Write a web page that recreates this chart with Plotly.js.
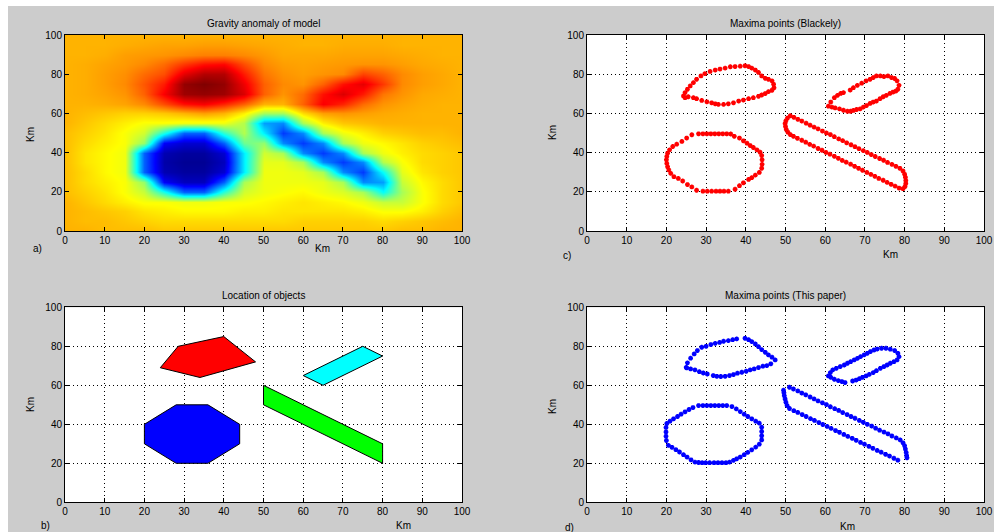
<!DOCTYPE html>
<html><head><meta charset="utf-8">
<script src="https://cdn.plot.ly/plotly-3.0.1.min.js"></script>
<style>html,body{margin:0;padding:0;background:#cccccc;} #chart{width:994px;height:532px;}</style>
</head><body><div id="chart"></div>
<script>
// ---------- DATA ----------
const axisTicks = [0,10,20,30,40,50,60,70,80,90,100];
const yTicks = [0,20,40,60,80,100];
const gridX = [0,5,10,15,20,25,30,35,40,45,50,55,60,65,70,75,80,85,90,95,100];
const gridY = [0,5,10,15,20,25,30,35,40,45,50,55,60,65,70,75,80,85,90,95,100];
// gravity anomaly level (colour-index units 0..100), rows for y = 0..100
const gravityZ = [
 [70,70,69,69,69,68,68,68,68,68,68,68,68,68,68,68,68,69,69,70,70],
 [70,69,69,68,67,66,66,66,66,66,66,66,67,67,67,67,66,67,68,69,70],
 [70,69,68,67,65,64,63,63,63,64,64,65,65,65,65,64,62,62,64,67,69],
 [70,68,66,64,62,62,61,61,62,62,63,64,65,64,63,61,57,57,62,66,68],
 [69,67,65,62,57,40,22,22,42,58,61,62,63,61,59,54,38,54,62,66,68],
 [69,66,64,62,52,12,6,6,22,54,61,61,61,60,54,26,28,57,63,66,68],
 [69,66,63,61,22,5,3,3,8,36,61,61,60,54,26,18,38,60,65,67,68],
 [69,65,63,61,22,4,2,2,6,36,60,60,54,26,18,26,55,62,66,67,68],
 [69,65,63,61,22,5,3,3,8,36,58,54,26,18,26,54,61,64,66,67,68],
 [69,66,64,62,52,12,8,8,22,48,52,26,18,26,54,61,63,65,67,68,69],
 [69,67,65,62,58,40,22,22,42,55,36,18,26,54,61,64,67,68,69,69,70],
 [70,68,66,64,62,62,61,61,61,55,28,26,54,64,68,69,70,70,70,70,70],
 [70,69,68,67,67,68,70,72,70,64,54,54,66,72,73,72,71,70.5,70,70,70],
 [70,70,70.5,71.5,74,80,86,88,84,78,70,70,78,88,84,77,73,71.5,70.5,70,70],
 [70,70.5,71.5,73,78,88,97,98,97,91,78,73,77,86,91,85,76,73,71,70.5,70],
 [70,70.5,72,74,79,85,98,100,98,89,78,74,73,78,86,90,82,74,72,71,70],
 [70,70.5,72,73.5,77,80,90,95,95,85,76,73,72,73,74,81,78,74,72,71,70],
 [70,70.5,71.5,72.5,74,77,82,86,87,80,74,72,71.5,72,72.5,73,73,72,71,70.5,70],
 [70,70,70.5,72,72.5,73,74,75,75,74,72.5,71,71,71,71.5,71.5,71.5,71,70.5,70,70],
 [70,70,70,70.5,71,71.5,71.5,72,72,71.5,71,70.5,70,70,70.5,70.5,70.5,70,70,70,70],
 [70,70,70,70,70,70,70,70,70,70,70,70,70,70,70,70,70,70,70,70,70]
];

// panel b: bodies (x,y vertices in km)
const redBody   = [[24,69],[28.5,80],[40,85],[48,72],[34,64]];
const cyanBody  = [[60,65],[65,60],[80,75],[75,80]];
const greenBody = [[50,60],[50,50],[80,20],[80,30]];
const blueBody  = [[20,30],[20,40],[28,50],[36,50],[44,40],[44,30],[36,20],[28,20]];

// panel c: maxima points (Blakely)
const blakelyBody1 = [[24.3,68.9],[24.7,70.6],[25.3,72.3],[26.0,74.0],[26.8,75.7],[27.6,77.4],[28.7,79.1],[29.7,80.3],[31.0,81.4],[32.3,82.1],[33.5,82.6],[34.8,83.1],[36.1,83.8],[37.3,83.9],[38.6,84.1],[39.8,84.3],[40.7,83.9],[41.5,83.1],[42.4,82.1],[43.2,80.9],[44.0,79.1],[44.9,77.9],[45.7,77.4],[46.6,76.6],[47.0,74.9],[47.1,73.1],[46.6,71.8],[45.7,71.1],[44.9,70.1],[44.0,69.4],[43.2,68.7],[41.9,68.0],[40.7,67.5],[39.4,66.8],[38.2,66.3],[36.9,65.4],[35.6,64.9],[34.4,64.6],[33.1,64.6],[32.3,64.9],[31.4,65.4],[30.2,65.9],[28.9,66.6],[27.6,67.5],[26.8,68.0],[25.5,68.5],[24.7,68.0]];
const blakelyBody2 = [[26.4,49.1],[25.1,47.4],[23.9,45.7],[22.6,44.3],[21.6,43.1],[20.8,41.4],[20.3,39.7],[20.1,38.0],[20.0,36.3],[20.1,34.5],[20.3,32.8],[20.6,31.1],[21.1,29.4],[21.9,27.7],[23.0,26.8],[24.1,25.5],[25.3,23.7],[26.4,22.5],[27.6,20.8],[29.2,20.3],[30.3,20.3],[31.4,20.3],[32.5,20.3],[33.5,20.3],[34.5,20.3],[35.6,20.3],[37.3,21.3],[38.4,23.1],[39.4,24.6],[40.7,26.3],[41.5,27.2],[42.4,28.5],[43.4,29.9],[44.0,32.0],[44.1,34.0],[44.1,36.3],[44.0,38.5],[43.6,40.2],[42.8,41.4],[41.9,42.6],[41.1,43.6],[40.3,44.8],[39.4,46.0],[38.4,47.4],[37.1,48.3],[36.2,49.5],[35.2,49.6],[34.2,49.6],[33.2,49.6],[32.2,49.6],[31.2,49.6],[30.2,49.6],[29.2,49.6],[28.1,49.6]];
const blakelyBody3 = [[60.8,63.7],[61.4,65.8],[62.3,68.0],[63.1,69.2],[63.9,70.2],[64.6,70.6],[66.3,71.9],[67.1,73.1],[68.1,74.3],[69.2,75.4],[70.3,76.6],[71.3,77.4],[72.1,78.3],[72.9,79.1],[73.9,79.1],[74.8,78.8],[75.8,79.1],[76.7,78.3],[77.5,77.8],[78.1,76.6],[78.6,74.3],[78.3,72.3],[77.8,71.4],[77.1,70.9],[76.3,70.2],[75.4,69.2],[74.6,68.5],[73.8,67.5],[72.9,66.3],[72.1,65.8],[71.3,65.1],[70.4,64.0],[69.6,63.2],[68.8,62.3],[67.9,62.0],[67.1,61.5],[66.4,61.1],[65.6,61.1],[64.6,61.6],[63.6,62.3],[62.5,62.8],[61.7,63.2]];
const blakelyBody4 = [[51.2,58.8],[52.1,58.0],[53.1,57.0],[54.1,56.1],[55.2,55.0],[56.2,54.0],[57.2,53.0],[58.2,52.1],[59.3,51.0],[60.3,50.0],[61.3,49.2],[62.3,48.1],[63.4,47.0],[64.4,46.1],[65.4,45.0],[66.5,44.0],[67.5,43.0],[68.5,42.0],[69.6,41.0],[70.6,40.1],[71.6,39.0],[72.6,38.0],[73.7,37.0],[74.7,36.1],[75.7,35.0],[76.8,34.0],[77.8,33.0],[78.8,32.0],[79.6,30.6],[80.0,29.0],[80.2,27.4],[80.3,25.8],[80.3,24.2],[80.1,22.7],[79.6,21.6],
 [78.6,21.9],[77.6,22.9],[76.6,23.8],[75.6,24.8],[74.6,25.9],[73.5,26.8],[72.5,27.9],[71.5,28.9],[70.5,29.9],[69.4,31.0],[68.4,32.0],[67.4,33.0],[66.4,34.1],[65.3,35.1],[64.3,36.0],[63.3,37.1],[62.3,38.1],[61.2,39.2],[60.2,40.1],[59.2,41.2],[58.2,42.1],[57.1,43.3],[56.1,44.2],[55.1,45.3],[54.1,46.3],[53.0,47.3],[52.0,48.3],[51.2,49.2],[50.6,50.4],[50.2,51.8],[50.0,53.3],[49.9,54.8],[50.1,56.2],[50.5,57.6]];

// panel d: maxima points (This paper)
const paperBody1 = [[25.0,69.2],[25.3,71.5],[26.1,73.9],[27.0,76.1],[27.8,77.8],[28.9,79.5],[30.0,80.0],[31.2,80.9],[32.3,81.5],[33.4,82.0],[34.4,82.6],[35.6,82.9],[36.7,83.4],[37.7,83.8],[39.8,84.1],[40.7,83.4],[41.5,82.4],[42.4,81.2],[43.2,79.8],[44.0,78.3],[44.9,76.9],[45.7,75.6],[46.6,74.4],[47.4,73.0],[46.3,71.0],[45.3,70.1],[44.3,69.8],[43.2,69.1],[42.1,68.4],[41.1,67.9],[40.1,67.2],[39.0,66.7],[37.9,66.2],[36.9,65.5],[35.9,65.0],[34.8,64.6],[33.7,64.5],[32.7,64.6],[31.8,65.0],[30.3,65.8],[29.3,66.3],[28.3,67.0],[27.2,67.9],[26.1,68.4],[25.1,68.9]];
const paperBody2 = [[28.1,49.6],[29.2,49.6],[30.2,49.6],[31.2,49.6],[32.2,49.6],[33.2,49.6],[34.2,49.6],[35.2,49.6],[36.5,49.1],[37.6,47.9],[38.6,46.5],[39.6,45.2],[40.5,44.0],[41.5,42.8],[42.5,41.6],[43.4,40.6],[44.0,38.5],[44.0,36.3],[44.0,34.1],[44.0,32.0],[43.4,29.8],[42.5,28.3],[41.5,26.9],[40.5,25.6],[39.6,24.4],[38.6,23.2],[37.7,22.3],[36.9,21.5],[35.9,20.6],[35.0,20.3],[34.0,20.3],[33.0,20.3],[32.0,20.3],[30.9,20.3],[29.9,20.3],[29.0,20.3],[28.1,20.4],[27.2,20.6],[26.2,21.8],[25.2,23.2],[24.3,24.4],[23.3,25.8],[22.4,27.0],[21.4,28.2],[20.5,29.2],[20.0,31.7],[19.9,33.9],[19.9,36.1],[19.9,38.4],[20.1,40.4],[20.9,41.6],[21.8,42.8],[22.8,44.0],[23.7,45.2],[24.7,46.4],[25.7,47.6],[26.7,48.6]];
const paperBody3 = [[60.8,64.8],[61.3,66.5],[61.9,67.9],[62.8,68.7],[63.8,69.6],[64.8,70.4],[65.6,71.3],[66.4,72.1],[67.3,73.0],[68.1,73.8],[68.9,74.7],[69.8,75.6],[70.6,76.4],[71.4,77.3],[72.3,78.1],[73.1,78.6],[74.2,79.0],[75.3,79.0],[76.4,78.5],[77.5,77.8],[78.3,76.4],[78.6,74.7],[78.1,73.0],[77.3,72.1],[76.4,71.3],[75.6,70.4],[74.8,69.6],[73.9,68.7],[72.9,67.5],[72.1,66.5],[71.1,65.6],[70.3,64.8],[69.4,64.1],[68.6,63.4],[67.8,62.7],[66.9,62.2],[65.0,61.4],[64.2,61.9],[63.3,62.4],[62.3,63.1],[61.4,64.1]];
const paperBody4 = [[51.0,59.0],[52.0,58.1],[53.1,57.1],[54.1,56.0],[55.1,55.1],[56.2,54.0],[57.2,53.0],[58.2,52.0],[59.3,51.0],[60.3,50.1],[61.3,49.0],[62.4,48.0],[63.4,47.1],[64.4,46.0],[65.5,45.0],[66.5,44.0],[67.5,43.1],[68.6,42.0],[69.6,41.0],[70.6,40.0],[71.7,39.1],[72.7,38.0],[73.7,37.0],[74.8,36.0],[75.8,35.1],[76.8,34.0],[77.9,33.0],[78.9,32.0],[79.6,30.5],[80.0,29.0],[80.2,27.3],[80.4,25.6],[80.5,24.0],[80.6,22.8],
 [78.3,21.6],[77.3,22.6],[76.2,23.7],[75.2,24.6],[74.1,25.7],[73.1,26.6],[72.0,27.7],[71.0,28.7],[69.9,29.8],[68.9,30.7],[67.8,31.8],[66.8,32.8],[65.7,33.8],[64.7,34.8],[63.6,35.9],[62.6,36.8],[61.5,37.9],[60.5,38.9],[59.4,39.9],[58.4,40.9],[57.3,42.0],[56.3,42.9],[55.2,44.0],[54.2,45.0],[53.1,46.1],[52.1,47.0],[51.0,48.1],[50.4,49.6],[50.1,51.3],[49.9,53.0],[49.7,54.6],[49.6,56.2],[49.5,57.5]];

// ---------- BUILD ----------
const jet = [[0,'#000080'],[0.125,'#0000ff'],[0.375,'#00ffff'],[0.625,'#ffff00'],[0.875,'#ff0000'],[1,'#800000']];
const xs = a => a.map(p => p[0]);
const ys = a => a.map(p => p[1]);
const closed = a => a.concat([a[0]]);

function poly(body, color) {
  const c = closed(body);
  return {type:'scatter', mode:'lines', x:xs(c), y:ys(c), xaxis:'x3', yaxis:'y3',
    fill:'toself', fillcolor:color, line:{color:'#000', width:1}, hoverinfo:'skip', showlegend:false};
}
const blakely = blakelyBody1.concat(blakelyBody2, blakelyBody3, blakelyBody4);
const paper = paperBody1.concat(paperBody2, paperBody3, paperBody4);

const traces = [
  {type:'heatmap', x:gridX, y:gridY, z:gravityZ, zmin:0, zmax:100, colorscale:jet,
   zsmooth:'best', showscale:false, hoverinfo:'skip', xaxis:'x', yaxis:'y'},
  poly(redBody,'#ff0000'), poly(cyanBody,'#00ffff'), poly(greenBody,'#00ff00'), poly(blueBody,'#0000ff'),
  {type:'scatter', mode:'markers', x:xs(blakely), y:ys(blakely), xaxis:'x2', yaxis:'y2',
   marker:{symbol:'asterisk-open', size:4, color:'#ff0000', line:{color:'#ff0000', width:1.5}}, showlegend:false, hoverinfo:'skip'},
  {type:'scatter', mode:'markers', x:xs(paper), y:ys(paper), xaxis:'x4', yaxis:'y4',
   marker:{symbol:'asterisk-open', size:4, color:'#0000ff', line:{color:'#0000ff', width:1.5}}, showlegend:false, hoverinfo:'skip'}
];

const W = 994, H = 532;
const px = v => v / W, py = v => 1 - v / H;
const font = {family:'Arial, "Liberation Sans", sans-serif', size:10, color:'#000'};

function xax(dom, anchor, grid) {
  return {domain:dom, anchor:anchor, range:[0,100], tickvals:axisTicks, ticks:'inside', ticklen:4,
    tickcolor:'#000', showline:true, linecolor:'#000', linewidth:1, mirror:'ticks', zeroline:false,
    showgrid:grid, gridcolor:'#000', gridwidth:1, griddash:'1px,3px', tickfont:font, fixedrange:true};
}
function yax(dom, anchor, grid) {
  return {domain:dom, anchor:anchor, range:[0,100], tickvals:yTicks, ticks:'inside', ticklen:4,
    tickcolor:'#000', showline:true, linecolor:'#000', linewidth:1, mirror:'ticks', zeroline:false,
    showgrid:grid, gridcolor:'#000', gridwidth:1, griddash:'1px,3px', tickfont:font, fixedrange:true};
}
const leftDom = [px(65), px(462)], rightDom = [px(587), px(984)];
const topDom = [py(231), py(35)], botDom = [py(502.3), py(307.3)];

function txt(t, x, y, rot) {
  return {text:t, x:px(x), y:py(y), xref:'paper', yref:'paper', showarrow:false,
    xanchor:'center', yanchor:'middle', font:font, textangle:rot||0};
}

const layout = {
  width:W, height:H, margin:{l:0,r:0,t:0,b:0},
  paper_bgcolor:'#cccccc', plot_bgcolor:'#ffffff', showlegend:false,
  xaxis: xax(leftDom,'y',false),  yaxis: yax(topDom,'x',false),
  xaxis2: xax(rightDom,'y2',true), yaxis2: yax(topDom,'x2',true),
  xaxis3: xax(leftDom,'y3',true),  yaxis3: yax(botDom,'x3',true),
  xaxis4: xax(rightDom,'y4',true), yaxis4: yax(botDom,'x4',true),
  shapes:[
    {type:'rect', xref:'paper', yref:'paper', x0:0, x1:1, y0:py(6), y1:1, fillcolor:'#ffffff', line:{width:0}, layer:'below'},
    {type:'rect', xref:'paper', yref:'paper', x0:0, x1:px(8), y0:0, y1:1, fillcolor:'#ffffff', line:{width:0}, layer:'below'}
  ],
  annotations:[
    txt('Gravity anomaly of model', 263, 23),
    txt('Maxima points (Blackely)', 785, 23),
    txt('Location of objects', 263, 295),
    txt('Maxima points (This paper)', 785, 295),
    txt('Km', 322, 248), txt('Km', 890, 254), txt('Km', 403, 525), txt('Km', 847, 526),
    txt('Km', 30, 135, -90), txt('Km', 552, 133, -90), txt('Km', 30, 405, -90), txt('Km', 552, 407, -90),
    txt('a)', 37, 248), txt('c)', 567, 255), txt('b)', 45, 525), txt('d)', 569, 527)
  ]
};

Plotly.newPlot('chart', traces, layout, {displayModeBar:false, staticPlot:true});
</script></body></html>
